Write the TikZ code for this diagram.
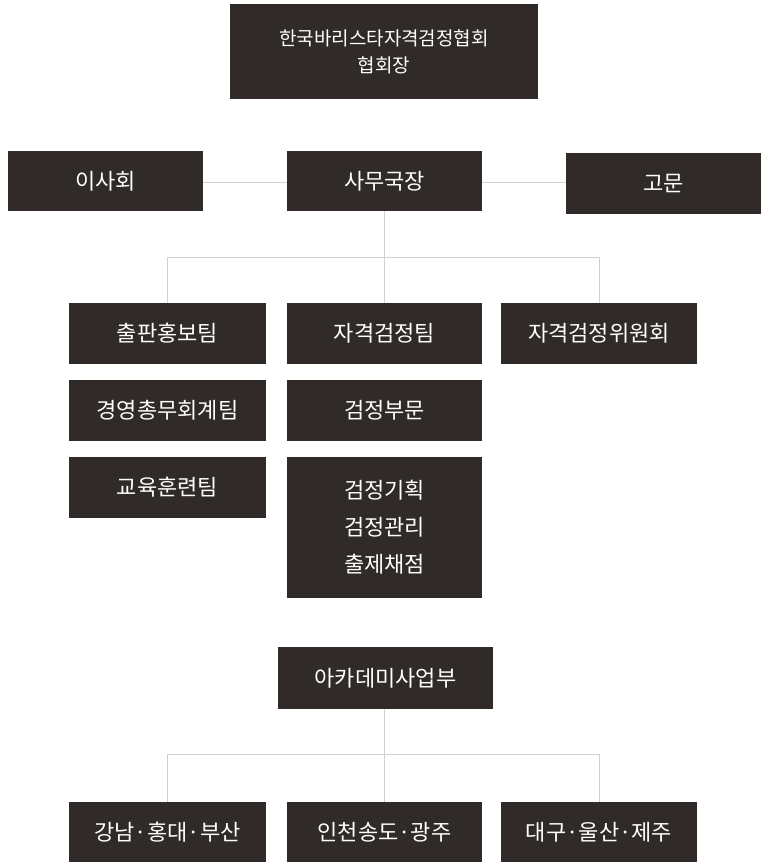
\documentclass[tikz,border=0pt]{standalone}
\usepackage{fontspec}
\setmainfont{Noto Sans CJK KR}
\begin{document}
\begin{tikzpicture}[x=1pt,y=-1pt,
  box/.style={fill=boxc,draw=none,text=white,inner sep=0pt,align=center,font=\fontsize{22}{30}\selectfont},
  ln/.style={draw=linec,line width=1pt}]
\definecolor{boxc}{HTML}{302A28}
\definecolor{linec}{HTML}{D0D0D0}
\useasboundingbox (0,0) rectangle (767,868);
\node[box,minimum width=308,minimum height=95,font=\fontsize{19}{27}\selectfont] (top) at (384,51.5) {한국바리스타자격검정협회\\협회장};
\node[box,minimum width=195,minimum height=60] (isa) at (105.5,181) {이사회};
\node[box,minimum width=195,minimum height=60] (samu) at (384.5,181) {사무국장};
\node[box,minimum width=195,minimum height=61] (gomun) at (663.5,183.5) {고문};
\draw[ln] (isa.east |- 0,182) -- (samu.west |- 0,182);
\draw[ln] (samu.east |- 0,182) -- (gomun.west |- 0,182);
\node[box,minimum width=197,minimum height=61] (pub) at (167.5,333.5) {출판홍보팀};
\node[box,minimum width=195,minimum height=61] (cert) at (384.5,333.5) {자격검정팀};
\node[box,minimum width=196,minimum height=61] (comm) at (599,333.5) {자격검정위원회};
\coordinate (j1) at (384.5,257);
\draw[ln] (samu.south) -- (j1) -- (cert.north);
\draw[ln] (pub.north) -- (pub.north |- j1) -- (comm.north |- j1) -- (comm.north);
\node[box,minimum width=197,minimum height=61] (mgmt) at (167.5,410.5) {경영총무회계팀};
\node[box,minimum width=195,minimum height=61] (dept) at (384.5,410.5) {검정부문};
\node[box,minimum width=197,minimum height=61] (edu) at (167.5,487.5) {교육훈련팀};
\node[box,minimum width=195,minimum height=141,font=\fontsize{22}{37}\selectfont] (plan) at (384.5,527.5) {검정기획\\검정관리\\출제채점};
\node[box,minimum width=215,minimum height=62] (acad) at (385.5,678) {아카데미사업부};
\node[box,minimum width=197,minimum height=60] (b1) at (167.5,832) {강남·홍대·부산};
\node[box,minimum width=195,minimum height=60] (b2) at (384.5,832) {인천송도·광주};
\node[box,minimum width=196,minimum height=60] (b3) at (599,832) {대구·울산·제주};
\coordinate (j2) at (384.5,754);
\draw[ln] (acad.south -| j2) -- (b2.north);
\draw[ln] (b1.north) -- (b1.north |- j2) -- (b3.north |- j2) -- (b3.north);
\end{tikzpicture}
\end{document}
